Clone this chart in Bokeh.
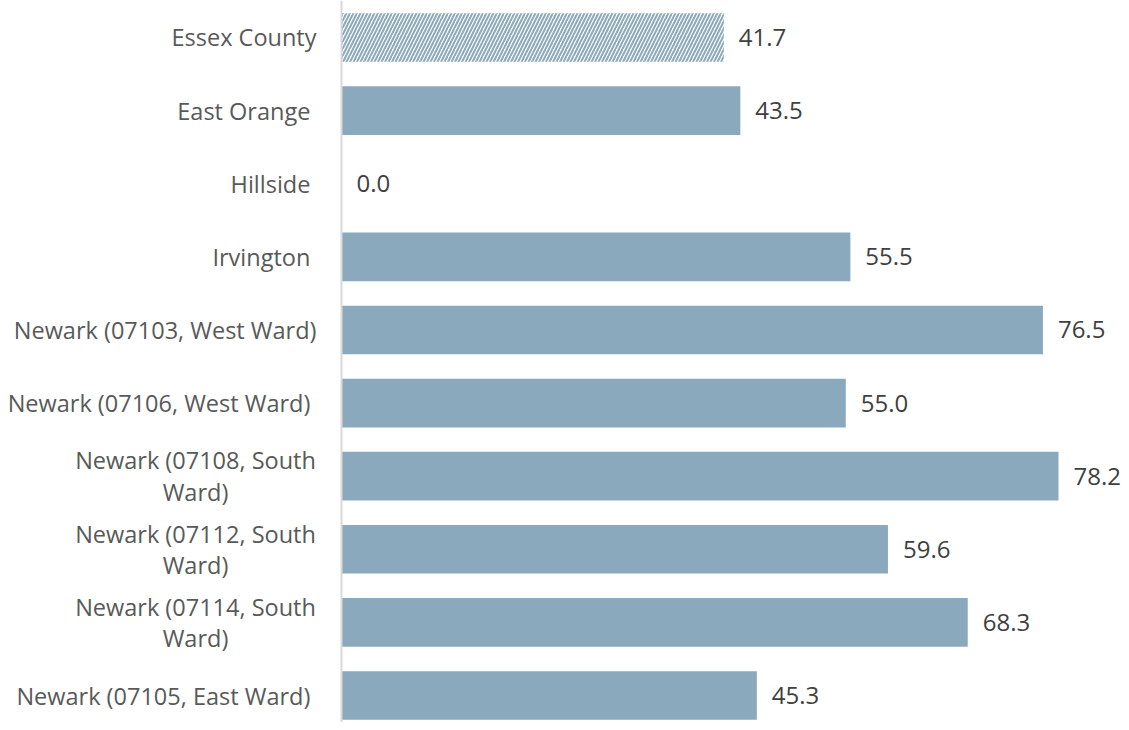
from bokeh.plotting import figure
from bokeh.models import ColumnDataSource, Range1d, Span
from bokeh.core.properties import value
from bokeh.embed import file_html
from bokeh.resources import INLINE

categories = ["Essex County", "East Orange ", "Hillside ", "Irvington ",
              "Newark (07103, West Ward)", "Newark (07106, West Ward) ",
              "Newark (07108, South\nWard)", "Newark (07112, South\nWard)",
              "Newark (07114, South\nWard)", "Newark (07105, East Ward) "]
values = [41.7, 43.5, 0.0, 55.5, 76.5, 55.0, 78.2, 59.6, 68.3, 45.3]

BAR = "#8BA9BD"
FONT = "Open Sans"

pos = list(range(len(categories)))
p = figure(width=1121, height=722, output_backend="svg", toolbar_location=None,
           x_range=Range1d(-37.19, 85.07), y_range=Range1d(9.369, -0.506),
           min_border=0, min_border_left=0, min_border_right=0,
           min_border_top=0, min_border_bottom=0)
p.axis.visible = False
p.grid.visible = False
p.outline_line_color = None

solid = ColumnDataSource(dict(y=pos[1:], v=values[1:]))
p.hbar(y="y", right="v", left=0, height=0.665, source=solid,
       fill_color=BAR, line_color=None)
county = ColumnDataSource(dict(y=pos[:1], v=values[:1]))
p.hbar(y="y", right="v", left=0, height=0.665, source=county,
       fill_color="white", line_color=None, hatch_pattern="right_diagonal_line",
       hatch_color=BAR, hatch_weight=2, hatch_scale=7)

p.add_layout(Span(location=0, dimension="height", line_color="#d9d9d9", line_width=2))

vals = ColumnDataSource(dict(y=pos, v=values, t=[f"{x:.1f}" for x in values]))
p.text(x="v", y="y", text="t", source=vals, x_offset=15, text_align="left",
       text_baseline="middle", text_font=value(FONT), text_font_size="24px",
       text_color="#404040")

single = [i for i, c in enumerate(categories) if "\n" not in c]
multi = [i for i, c in enumerate(categories) if "\n" in c]
s1 = ColumnDataSource(dict(y=[pos[i] for i in single], t=[categories[i] for i in single]))
p.text(x=0, y="y", text="t", source=s1, x_offset=-25, text_align="right",
       text_baseline="middle", text_font=value(FONT), text_font_size="23.5px",
       text_color="#595959")
s2 = ColumnDataSource(dict(y=[pos[i] for i in multi], t=[categories[i] for i in multi]))
p.text(x=0, y="y", text="t", source=s2, x_offset=-146, text_align="center",
       text_baseline="middle", text_font=value(FONT), text_font_size="23.5px",
       text_color="#595959", text_line_height=0.98)

open("out.html", "w").write(file_html(p, INLINE))
